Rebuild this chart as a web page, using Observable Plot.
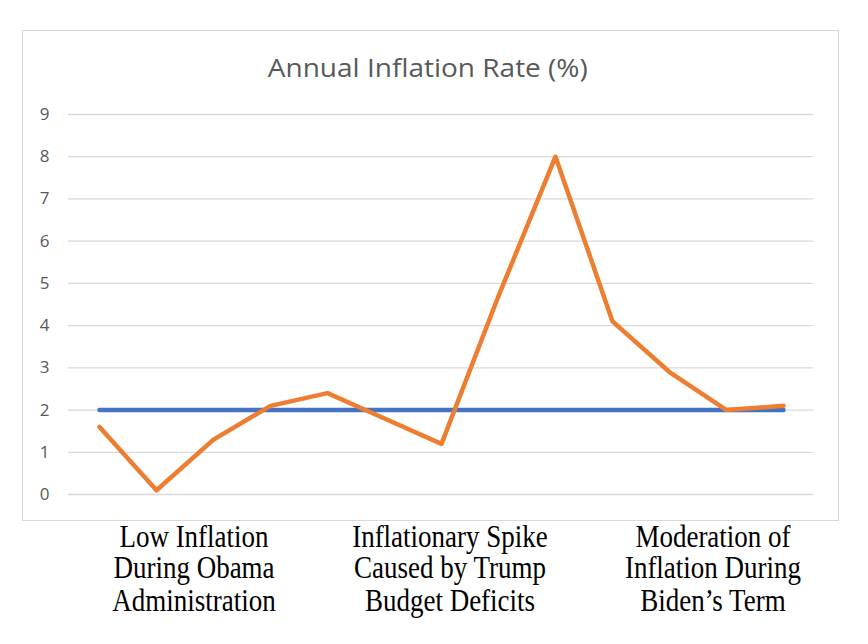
<!DOCTYPE html>
<html>
<head>
<meta charset="utf-8">
<script src="https://cdn.jsdelivr.net/npm/d3@7"></script>
<script src="https://cdn.jsdelivr.net/npm/@observablehq/plot@0.6"></script>
<style>
  html, body { margin: 0; padding: 0; background: #fff; }
  #wrap { position: relative; width: 868px; height: 644px; overflow: hidden; }
  #box { position: absolute; left: 22px; top: 30px; width: 817px; height: 491px; box-sizing: border-box; border: 1px solid #d9d9d9; }
  #title { position: absolute; left: 22px; width: 817px; top: 50px; text-align: center; font-family: "Open Sans", sans-serif; font-size: 25px; line-height: normal; color: #595959; transform: scaleX(1.12); transform-origin: 431px 0; }
  #chart { position: absolute; left: 22px; top: 90px; }
  .cat { position: absolute; top: 521px; width: 280px; text-align: center; font-family: "Liberation Serif", "Times New Roman", serif; font-size: 27px; line-height: 27.4px; color: #000; transform: scaleY(1.17); transform-origin: 50% 0; }
</style>
</head>
<body>
<div id="wrap">
  <div id="box"></div>
  <div id="title"></div>
  <div id="chart"></div>
</div>
<script>
const titleText = "Annual Inflation Rate (%)";
const inflation = [1.6, 0.1, 1.3, 2.1, 2.4, 1.8, 1.2, 4.7, 8.0, 4.1, 2.9, 2.0, 2.1];
const target = [2, 2, 2, 2, 2, 2, 2, 2, 2, 2, 2, 2, 2];
const yTicks = [0, 1, 2, 3, 4, 5, 6, 7, 8, 9];
const categoryLabels = [
  ["Low Inflation", "During Obama", "Administration"],
  ["Inflationary Spike", "Caused by Trump", "Budget Deficits"],
  ["Moderation of", "Inflation During", "Biden\u2019s Term"]
];
const categoryCenters = [194, 450, 713];

document.getElementById("title").textContent = titleText;

const idx = inflation.map((_, i) => i);
const dataInfl = idx.map(i => ({i, v: inflation[i]}));
const dataTarget = idx.map(i => ({i, v: target[i]}));

const chart = Plot.plot({
  width: 816,
  height: 430,
  marginLeft: 46,
  marginRight: 25,
  marginTop: 24,
  marginBottom: 26,
  style: { fontFamily: "Open Sans, sans-serif", fontSize: "17px", color: "#595959", background: "transparent" },
  x: { type: "point", domain: idx, padding: 0.5, axis: null },
  y: { domain: [0, 9], ticks: yTicks, tickSize: 0, tickPadding: 19, label: null, tickFormat: d => String(d) },
  marks: [
    Plot.ruleY(yTicks, { stroke: "#d9d9d9", strokeWidth: 1.3 }),
    Plot.line(dataTarget, { x: "i", y: "v", stroke: "#4472C4", strokeWidth: 4.5, strokeLinecap: "round", strokeLinejoin: "round" }),
    Plot.line(dataInfl, { x: "i", y: "v", stroke: "#ED7D31", strokeWidth: 4.5, strokeLinecap: "round", strokeLinejoin: "round" })
  ]
});
document.getElementById("chart").appendChild(chart);

const wrap = document.getElementById("wrap");
categoryLabels.forEach((lines, k) => {
  const d = document.createElement("div");
  d.className = "cat";
  d.style.left = (categoryCenters[k] - 140) + "px";
  d.innerHTML = lines.map(s => s.replace(/&/g, "&amp;").replace(/</g, "&lt;")).join("<br>");
  wrap.appendChild(d);
});
</script>
</body>
</html>
